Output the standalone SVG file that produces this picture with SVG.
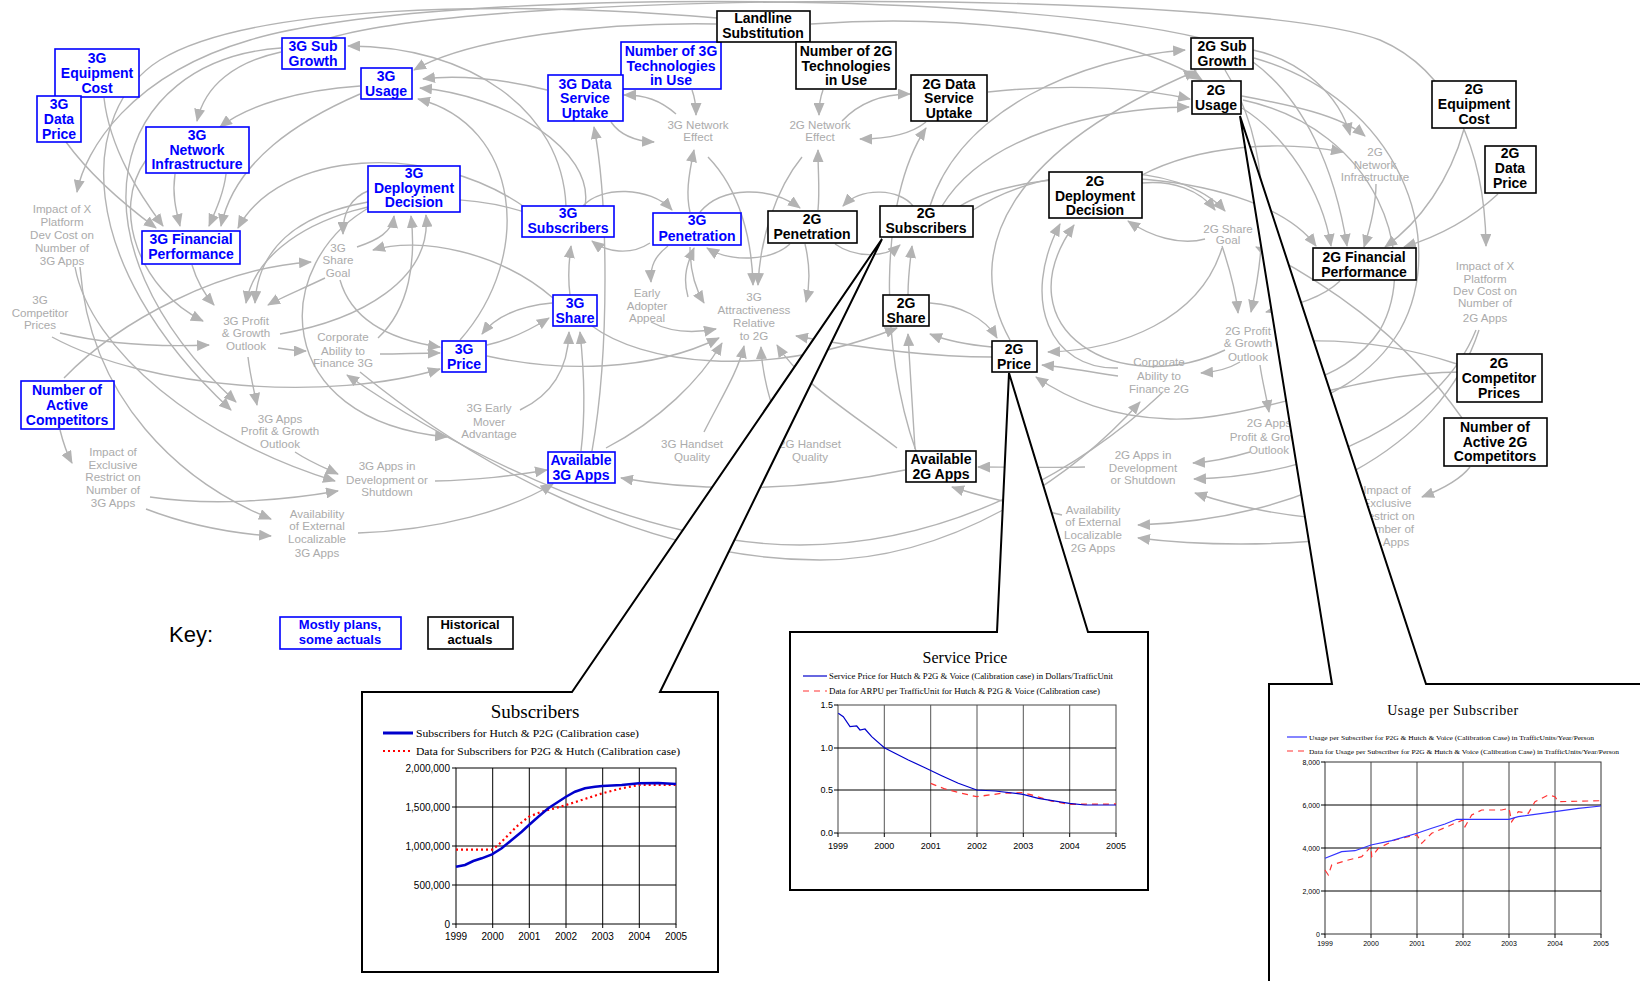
<svg xmlns="http://www.w3.org/2000/svg" width="1640" height="981" viewBox="0 0 1640 981">
<style>
.c{fill:none;stroke:#b3b3b3;stroke-width:1.4;marker-end:url(#ah)}
.cn{fill:none;stroke:#b3b3b3;stroke-width:1.4}
.bb rect{fill:#fff;stroke:#0000ff;stroke-width:1.6}
.bb text{fill:#0000ff;font-family:'Liberation Sans',Arial,sans-serif;font-weight:bold;font-size:14px;text-anchor:middle}
.kb rect{fill:#fff;stroke:#000;stroke-width:1.6}
.kb text{fill:#000;font-family:'Liberation Sans',Arial,sans-serif;font-weight:bold;font-size:14px;text-anchor:middle}
.g text{fill:#ababab;font-family:'Liberation Sans',Arial,sans-serif;font-size:11.6px;text-anchor:middle}
.co{fill:#fff;stroke:#000;stroke-width:2;stroke-linejoin:miter}
.grid{stroke:#000;stroke-width:1;fill:none}
.ax{font-family:'Liberation Sans',Arial,sans-serif;fill:#000}
.ser{font-family:'Liberation Serif','Times New Roman',serif;fill:#000}
</style>
<defs>
<marker id="ah" viewBox="0 0 13 11" refX="12" refY="5.5" markerWidth="13" markerHeight="11" markerUnits="userSpaceOnUse" orient="auto"><path d="M0,0 L13,5.5 L0,11 z" fill="#b3b3b3"/></marker>
</defs>
<rect width="1640" height="981" fill="#fff"/>
<g id="connectors">
<path class="c" d="M566,206 C562,110 470,46 348,46"/>
<path class="c" d="M716,24 C600,22 470,38 414,70"/>
<path class="c" d="M547,90 C500,78 455,75 423,79"/>
<path class="c" d="M585,206 C595,150 505,95 420,88"/>
<path class="c" d="M460,340 C535,255 520,125 418,99"/>
<path class="c" d="M281,52 C235,62 205,85 197,121"/>
<path class="c" d="M360,86 C300,90 248,105 220,127"/>
<path class="c" d="M104,98 C110,150 140,195 163,226"/>
<path class="c" d="M175,174 C172,195 176,210 180,226"/>
<path class="c" d="M226,174 C224,192 216,210 209,226"/>
<path class="c" d="M360,94 C300,120 235,160 221,226"/>
<path class="c" d="M526,208 C430,140 280,150 238,228"/>
<path class="c" d="M66,142 C90,175 125,205 156,228"/>
<path class="c" d="M357,247 C378,240 392,232 394,216"/>
<path class="c" d="M378,338 C410,308 416,260 411,216"/>
<path class="c" d="M280,334 C360,320 432,280 426,215"/>
<path class="c" d="M370,190 C350,198 343,212 343,234"/>
<path class="c" d="M64,378 C120,320 220,268 311,262"/>
<path class="c" d="M553,298 C500,252 420,236 373,250"/>
<path class="c" d="M340,280 C352,322 392,340 440,347"/>
<path class="c" d="M192,265 C198,285 206,296 214,305"/>
<path class="c" d="M325,278 C300,290 282,297 268,305"/>
<path class="c" d="M530,214 C420,175 262,215 246,303"/>
<path class="c" d="M368,202 C295,215 258,250 255,303"/>
<path class="c" d="M146,160 C110,210 140,290 203,321"/>
<path class="c" d="M60,333 C110,345 160,347 209,345"/>
<path class="c" d="M52,337 C150,390 330,402 440,369"/>
<path class="c" d="M278,348 C290,350 296,351 306,351"/>
<path class="c" d="M380,354 C400,354 420,353 440,353"/>
<path class="c" d="M248,357 C250,375 254,390 257,405"/>
<path class="c" d="M295,452 C310,462 325,468 338,474"/>
<path class="c" d="M75,267 C90,350 200,440 335,481"/>
<path class="c" d="M150,497 C210,506 280,501 338,491"/>
<path class="c" d="M80,267 C90,400 180,482 271,519"/>
<path class="c" d="M146,509 C190,526 230,533 271,536"/>
<path class="c" d="M60,430 C63,442 66,452 72,463"/>
<path class="c" d="M435,481 C480,480 510,476 547,470"/>
<path class="c" d="M358,533 C440,530 510,510 553,484"/>
<path class="c" d="M372,206 C270,262 268,420 447,437"/>
<path class="c" d="M520,410 C552,395 568,370 569,332"/>
<path class="c" d="M487,345 C510,340 530,330 549,318"/>
<path class="c" d="M552,303 C520,306 496,316 482,334"/>
<path class="c" d="M487,356 C560,372 650,372 719,338"/>
<path class="c" d="M581,451 C586,410 584,370 580,332"/>
<path class="c" d="M592,451 C610,350 608,200 594,127"/>
<path class="c" d="M592,326 C640,362 760,382 897,328"/>
<path class="c" d="M651,322 C670,332 690,334 716,329"/>
<path class="c" d="M690,247 C690,272 696,290 704,303"/>
<path class="c" d="M805,244 C810,265 810,285 806,302"/>
<path class="c" d="M606,448 C660,420 700,380 722,343"/>
<path class="c" d="M704,432 C720,400 738,372 744,346"/>
<path class="c" d="M780,432 C770,400 762,375 761,347"/>
<path class="c" d="M897,448 C850,412 800,382 777,345"/>
<path class="c" d="M992,357 C920,357 850,346 796,336"/>
<path class="c" d="M708,157 C740,190 752,240 753,285"/>
<path class="c" d="M802,157 C775,190 760,240 758,285"/>
<path class="c" d="M676,114 C660,100 645,95 624,95"/>
<path class="c" d="M611,122 C620,135 635,141 654,142"/>
<path class="c" d="M692,90 C695,98 696,104 696,115"/>
<path class="c" d="M823,90 C820,98 819,104 819,115"/>
<path class="c" d="M842,121 C860,102 885,94 910,94"/>
<path class="c" d="M926,122 C910,135 885,139 860,139"/>
<path class="c" d="M690,212 C686,195 688,178 694,150"/>
<path class="c" d="M818,210 C820,190 818,175 818,150"/>
<path class="c" d="M583,206 C600,186 650,186 672,210"/>
<path class="c" d="M650,243 C630,256 606,252 592,241"/>
<path class="c" d="M700,212 C722,186 770,186 800,208"/>
<path class="c" d="M913,206 C900,189 862,186 843,206"/>
<path class="c" d="M790,244 C770,262 730,262 707,248"/>
<path class="c" d="M835,244 C855,258 885,258 900,245"/>
<path class="c" d="M908,295 C908,276 910,262 912,246"/>
<path class="c" d="M570,295 C568,280 569,260 571,246"/>
<path class="c" d="M688,297 C682,276 688,262 694,248"/>
<path class="c" d="M668,246 C655,256 650,266 651,282"/>
<path class="c" d="M916,451 C880,350 878,200 926,128"/>
<path class="c" d="M811,24 C950,14 1120,30 1202,80"/>
<path class="c" d="M930,206 C960,110 1080,58 1185,50"/>
<path class="c" d="M988,92 C1080,82 1150,90 1190,99"/>
<path class="c" d="M942,206 C985,135 1100,108 1189,107"/>
<path class="c" d="M1010,340 C960,250 1010,150 1196,71"/>
<path class="c" d="M1253,50 C1300,60 1340,95 1350,135"/>
<path class="c" d="M1242,96 C1290,105 1340,115 1365,136"/>
<path class="c" d="M1142,175 C1200,145 1280,140 1343,152"/>
<path class="c" d="M1376,184 C1376,205 1371,225 1364,247"/>
<path class="c" d="M1464,129 C1450,180 1420,222 1385,247"/>
<path class="c" d="M1498,194 C1470,220 1440,236 1404,247"/>
<path class="c" d="M1253,62 C1305,100 1335,170 1347,246"/>
<path class="c" d="M1242,108 C1285,135 1322,190 1331,246"/>
<path class="c" d="M960,206 C1040,158 1260,170 1316,246"/>
<path class="c" d="M330,38 C500,-12 1250,-10 1380,40 C1450,70 1485,150 1486,246"/>
<path class="c" d="M1200,38 C1000,-10 420,-12 250,40 C130,75 85,150 77,192"/>
<path class="c" d="M1142,183 C1172,180 1200,190 1215,210"/>
<path class="c" d="M973,210 C1050,160 1180,160 1225,211"/>
<path class="c" d="M1205,239 C1180,246 1150,236 1128,221"/>
<path class="c" d="M1118,368 C1050,370 1020,300 1060,224"/>
<path class="c" d="M1225,350 C1120,400 1000,330 1074,225"/>
<path class="c" d="M1222,246 C1230,270 1236,292 1238,313"/>
<path class="c" d="M1340,281 C1320,300 1290,306 1266,312"/>
<path class="c" d="M1225,70 C1275,150 1265,250 1251,312"/>
<path class="c" d="M1462,418 C1400,330 1320,280 1256,247"/>
<path class="c" d="M1240,362 C1230,368 1215,372 1201,373"/>
<path class="c" d="M1260,365 C1262,380 1266,395 1269,412"/>
<path class="c" d="M1250,452 C1230,458 1210,462 1193,463"/>
<path class="c" d="M1476,330 C1440,420 1320,476 1194,479"/>
<path class="c" d="M1350,520 C1290,518 1240,508 1195,493"/>
<path class="c" d="M1479,330 C1440,450 1300,520 1138,525"/>
<path class="c" d="M1345,538 C1280,546 1200,546 1138,538"/>
<path class="c" d="M1470,467 C1460,480 1440,490 1422,497"/>
<path class="c" d="M1457,364 C1400,345 1340,338 1285,342"/>
<path class="c" d="M1462,372 C1350,372 1250,422 1170,419 C1110,417 1070,400 1036,377"/>
<path class="c" d="M1118,376 C1090,372 1065,367 1042,365"/>
<path class="c" d="M1222,248 C1200,320 1120,350 1048,352"/>
<path class="c" d="M930,303 C960,305 985,318 997,338"/>
<path class="c" d="M992,347 C970,345 945,340 930,334"/>
<path class="c" d="M915,449 C912,400 910,370 908,334"/>
<path class="c" d="M905,470 C800,492 700,492 621,478"/>
<path class="c" d="M1062,515 C1020,505 985,498 952,487"/>
<path class="c" d="M1085,467 C1040,468 1000,467 978,467"/>
<path class="c" d="M1162,393 C1080,470 950,545 800,545 C650,545 470,460 347,375"/>
<path class="c" d="M360,372 C480,470 650,560 820,560 C950,560 1070,480 1140,402"/>
<path class="c" d="M717,18 C500,0 250,5 160,60 C80,110 70,260 231,410"/>
<path class="c" d="M281,48 C110,60 60,240 236,402"/>
<path class="cn" d="M1254,58 C1400,100 1450,240 1400,330 C1370,380 1320,400 1300,405"/>
<path class="cn" d="M1243,100 C1380,130 1420,260 1380,330 C1360,360 1330,375 1310,380"/>
</g>
<g id="labels" class="g">
<g id="l-3g-net-effect"><text><tspan x="698" y="129">3G Network</tspan><tspan x="698" y="141">Effect</tspan></text></g>
<g id="l-2g-net-effect"><text><tspan x="820" y="129">2G Network</tspan><tspan x="820" y="141">Effect</tspan></text></g>
<g id="l-impact-x-3g"><text><tspan x="62" y="213">Impact of X</tspan><tspan x="62" y="226">Platform</tspan><tspan x="62" y="239">Dev Cost on</tspan><tspan x="62" y="252">Number of</tspan><tspan x="62" y="265">3G Apps</tspan></text></g>
<g id="l-3g-share-goal"><text><tspan x="338" y="252">3G</tspan><tspan x="338" y="264">Share</tspan><tspan x="338" y="277">Goal</tspan></text></g>
<g id="l-3g-comp-prices"><text><tspan x="40" y="304">3G</tspan><tspan x="40" y="317">Competitor</tspan><tspan x="40" y="329">Prices</tspan></text></g>
<g id="l-3g-profit"><text><tspan x="246" y="325">3G Profit</tspan><tspan x="246" y="337">&amp; Growth</tspan><tspan x="246" y="350">Outlook</tspan></text></g>
<g id="l-corp-3g"><text><tspan x="343" y="341">Corporate</tspan><tspan x="343" y="355">Ability to</tspan><tspan x="343" y="367">Finance 3G</tspan></text></g>
<g id="l-early-adopter"><text><tspan x="647" y="297">Early</tspan><tspan x="647" y="310">Adopter</tspan><tspan x="647" y="322">Appeal</tspan></text></g>
<g id="l-3g-attr"><text><tspan x="754" y="301">3G</tspan><tspan x="754" y="314">Attractiveness</tspan><tspan x="754" y="327">Relative</tspan><tspan x="754" y="340">to 2G</tspan></text></g>
<g id="l-3g-early-mover"><text><tspan x="489" y="412">3G Early</tspan><tspan x="489" y="426">Mover</tspan><tspan x="489" y="438">Advantage</tspan></text></g>
<g id="l-3g-apps-profit"><text><tspan x="280" y="423">3G Apps</tspan><tspan x="280" y="435">Profit &amp; Growth</tspan><tspan x="280" y="448">Outlook</tspan></text></g>
<g id="l-impact-excl-3g"><text><tspan x="113" y="456">Impact of</tspan><tspan x="113" y="469">Exclusive</tspan><tspan x="113" y="481">Restrict on</tspan><tspan x="113" y="494">Number of</tspan><tspan x="113" y="507">3G Apps</tspan></text></g>
<g id="l-3g-apps-dev"><text><tspan x="387" y="470">3G Apps in</tspan><tspan x="387" y="484">Development or</tspan><tspan x="387" y="496">Shutdown</tspan></text></g>
<g id="l-avail-ext-3g"><text><tspan x="317" y="518">Availability</tspan><tspan x="317" y="530">of External</tspan><tspan x="317" y="543">Localizable</tspan><tspan x="317" y="557">3G Apps</tspan></text></g>
<g id="l-3g-handset"><text><tspan x="692" y="448">3G Handset</tspan><tspan x="692" y="461">Quality</tspan></text></g>
<g id="l-2g-handset"><text><tspan x="810" y="448">2G Handset</tspan><tspan x="810" y="461">Quality</tspan></text></g>
<g id="l-2g-share-goal"><text><tspan x="1228" y="233">2G Share</tspan><tspan x="1228" y="244">Goal</tspan></text></g>
<g id="l-2g-net-infra"><text><tspan x="1375" y="156">2G</tspan><tspan x="1375" y="169">Network</tspan><tspan x="1375" y="181">Infrastructure</tspan></text></g>
<g id="l-impact-x-2g"><text><tspan x="1485" y="270">Impact of X</tspan><tspan x="1485" y="283">Platform</tspan><tspan x="1485" y="295">Dev Cost on</tspan><tspan x="1485" y="307">Number of</tspan><tspan x="1485" y="322">2G Apps</tspan></text></g>
<g id="l-2g-profit"><text><tspan x="1248" y="335">2G Profit</tspan><tspan x="1248" y="347">&amp; Growth</tspan><tspan x="1248" y="361">Outlook</tspan></text></g>
<g id="l-corp-2g"><text><tspan x="1159" y="366">Corporate</tspan><tspan x="1159" y="380">Ability to</tspan><tspan x="1159" y="393">Finance 2G</tspan></text></g>
<g id="l-2g-apps-profit"><text><tspan x="1269" y="427">2G Apps</tspan><tspan x="1269" y="441">Profit &amp; Growth</tspan><tspan x="1269" y="454">Outlook</tspan></text></g>
<g id="l-2g-apps-dev"><text><tspan x="1143" y="459">2G Apps in</tspan><tspan x="1143" y="472">Development</tspan><tspan x="1143" y="484">or Shutdown</tspan></text></g>
<g id="l-impact-excl-2g"><text><tspan x="1387" y="494">Impact of</tspan><tspan x="1387" y="507">Exclusive</tspan><tspan x="1387" y="520">Restrict on</tspan><tspan x="1387" y="533">Number of</tspan><tspan x="1387" y="546">2G Apps</tspan></text></g>
<g id="l-avail-ext-2g"><text><tspan x="1093" y="514">Availability</tspan><tspan x="1093" y="526">of External</tspan><tspan x="1093" y="539">Localizable</tspan><tspan x="1093" y="552">2G Apps</tspan></text></g>
</g>
<g id="n-3g-equip" class="bb"><rect x="55" y="49" width="84" height="48"/><text><tspan x="97" y="63">3G</tspan><tspan x="97" y="78">Equipment</tspan><tspan x="97" y="93">Cost</tspan></text></g>
<g id="n-3g-data-price" class="bb"><rect x="37" y="96" width="44" height="46"/><text><tspan x="59" y="109">3G</tspan><tspan x="59" y="124">Data</tspan><tspan x="59" y="139">Price</tspan></text></g>
<g id="n-3g-sub-growth" class="bb"><rect x="282" y="38" width="63" height="31"/><text><tspan x="313" y="51">3G Sub</tspan><tspan x="313" y="66">Growth</tspan></text></g>
<g id="n-3g-usage" class="bb"><rect x="361" y="68" width="51" height="31"/><text><tspan x="386" y="81">3G</tspan><tspan x="386" y="96">Usage</tspan></text></g>
<g id="n-3g-net-infra" class="bb"><rect x="146" y="127" width="103" height="46"/><text><tspan x="197" y="140">3G</tspan><tspan x="197" y="155">Network</tspan><tspan x="197" y="169">Infrastructure</tspan></text></g>
<g id="n-3g-deploy" class="bb"><rect x="368" y="166" width="92" height="46"/><text><tspan x="414" y="178">3G</tspan><tspan x="414" y="193">Deployment</tspan><tspan x="414" y="207">Decision</tspan></text></g>
<g id="n-3g-fin" class="bb"><rect x="142" y="231" width="98" height="33"/><text><tspan x="191" y="244">3G Financial</tspan><tspan x="191" y="259">Performance</tspan></text></g>
<g id="n-num-3g-tech" class="bb"><rect x="621" y="42" width="100" height="47"/><text><tspan x="671" y="56">Number of 3G</tspan><tspan x="671" y="71">Technologies</tspan><tspan x="671" y="85">in Use</tspan></text></g>
<g id="n-3g-dsu" class="bb"><rect x="548" y="75" width="75" height="46"/><text><tspan x="585" y="89">3G Data</tspan><tspan x="585" y="103">Service</tspan><tspan x="585" y="118">Uptake</tspan></text></g>
<g id="n-3g-subs" class="bb"><rect x="522" y="206" width="92" height="31"/><text><tspan x="568" y="218">3G</tspan><tspan x="568" y="233">Subscribers</tspan></text></g>
<g id="n-3g-pen" class="bb"><rect x="653" y="213" width="88" height="32"/><text><tspan x="697" y="225">3G</tspan><tspan x="697" y="241">Penetration</tspan></text></g>
<g id="n-3g-share" class="bb"><rect x="553" y="295" width="44" height="31"/><text><tspan x="575" y="308">3G</tspan><tspan x="575" y="323">Share</tspan></text></g>
<g id="n-3g-price" class="bb"><rect x="442" y="341" width="44" height="31"/><text><tspan x="464" y="354">3G</tspan><tspan x="464" y="369">Price</tspan></text></g>
<g id="n-num-active" class="bb"><rect x="21" y="381" width="93" height="48"/><text><tspan x="67" y="395">Number of</tspan><tspan x="67" y="410">Active</tspan><tspan x="67" y="425">Competitors</tspan></text></g>
<g id="n-avail-3g" class="bb"><rect x="548" y="452" width="67" height="31"/><text><tspan x="581" y="465">Available</tspan><tspan x="581" y="480">3G Apps</tspan></text></g>
<g id="n-landline" class="kb"><rect x="717" y="11" width="93" height="31"/><text><tspan x="763" y="23">Landline</tspan><tspan x="763" y="38">Substitution</tspan></text></g>
<g id="n-num-2g-tech" class="kb"><rect x="796" y="42" width="100" height="47"/><text><tspan x="846" y="56">Number of 2G</tspan><tspan x="846" y="71">Technologies</tspan><tspan x="846" y="85">in Use</tspan></text></g>
<g id="n-2g-dsu" class="kb"><rect x="911" y="75" width="76" height="46"/><text><tspan x="949" y="89">2G Data</tspan><tspan x="949" y="103">Service</tspan><tspan x="949" y="118">Uptake</tspan></text></g>
<g id="n-2g-pen" class="kb"><rect x="768" y="211" width="89" height="32"/><text><tspan x="812" y="224">2G</tspan><tspan x="812" y="239">Penetration</tspan></text></g>
<g id="n-2g-subs" class="kb"><rect x="880" y="206" width="93" height="31"/><text><tspan x="926" y="218">2G</tspan><tspan x="926" y="233">Subscribers</tspan></text></g>
<g id="n-2g-deploy" class="kb"><rect x="1049" y="172" width="93" height="46"/><text><tspan x="1095" y="186">2G</tspan><tspan x="1095" y="201">Deployment</tspan><tspan x="1095" y="215">Decision</tspan></text></g>
<g id="n-2g-sub-growth" class="kb"><rect x="1191" y="38" width="62" height="31"/><text><tspan x="1222" y="51">2G Sub</tspan><tspan x="1222" y="66">Growth</tspan></text></g>
<g id="n-2g-usage" class="kb"><rect x="1192" y="81" width="49" height="33"/><text><tspan x="1216" y="95">2G</tspan><tspan x="1216" y="110">Usage</tspan></text></g>
<g id="n-2g-equip" class="kb"><rect x="1432" y="81" width="84" height="47"/><text><tspan x="1474" y="94">2G</tspan><tspan x="1474" y="109">Equipment</tspan><tspan x="1474" y="124">Cost</tspan></text></g>
<g id="n-2g-data-price" class="kb"><rect x="1485" y="146" width="51" height="47"/><text><tspan x="1510" y="158">2G</tspan><tspan x="1510" y="173">Data</tspan><tspan x="1510" y="188">Price</tspan></text></g>
<g id="n-2g-fin" class="kb"><rect x="1313" y="248" width="103" height="32"/><text><tspan x="1364" y="262">2G Financial</tspan><tspan x="1364" y="277">Performance</tspan></text></g>
<g id="n-2g-share" class="kb"><rect x="883" y="295" width="46" height="31"/><text><tspan x="906" y="308">2G</tspan><tspan x="906" y="323">Share</tspan></text></g>
<g id="n-2g-price" class="kb"><rect x="992" y="341" width="45" height="31"/><text><tspan x="1014" y="354">2G</tspan><tspan x="1014" y="369">Price</tspan></text></g>
<g id="n-2g-comp-prices" class="kb"><rect x="1457" y="354" width="85" height="48"/><text><tspan x="1499" y="368">2G</tspan><tspan x="1499" y="383">Competitor</tspan><tspan x="1499" y="398">Prices</tspan></text></g>
<g id="n-num-active-2g" class="kb"><rect x="1444" y="418" width="103" height="48"/><text><tspan x="1495" y="432">Number of</tspan><tspan x="1495" y="447">Active 2G</tspan><tspan x="1495" y="461">Competitors</tspan></text></g>
<g id="n-avail-2g" class="kb"><rect x="906" y="451" width="70" height="31"/><text><tspan x="941" y="464">Available</tspan><tspan x="941" y="479">2G Apps</tspan></text></g>
<g id="key">
<text x="169" y="642" class="ax" font-size="22">Key:</text>
<g class="bb"><rect x="280" y="617" width="121" height="32"/><text style="font-size:13px"><tspan x="340" y="629">Mostly plans,</tspan><tspan x="340" y="644">some actuals</tspan></text></g>
<g class="kb"><rect x="428" y="617" width="85" height="32"/><text style="font-size:13px"><tspan x="470" y="629">Historical</tspan><tspan x="470" y="644">actuals</tspan></text></g>
</g>
<g id="chart-subscribers">
<path class="co" d="M362,692 L572,692 L882,239 L660,692 L718,692 L718,972 L362,972 Z"/>
<text x="535" y="718" class="ser" font-size="19" text-anchor="middle">Subscribers</text>
<line x1="383" y1="733" x2="413" y2="733" stroke="#0000cc" stroke-width="3"/>
<text x="416" y="737" class="ser" font-size="11" textLength="223" lengthAdjust="spacingAndGlyphs">Subscribers for Hutch &amp;  P2G (Calibration case)</text>
<line x1="383" y1="751" x2="413" y2="751" stroke="#ff0000" stroke-width="2" stroke-dasharray="2,3"/>
<text x="416" y="755" class="ser" font-size="11" textLength="264" lengthAdjust="spacingAndGlyphs">Data  for Subscribers for P2G &amp; Hutch (Calibration case)</text>
<g class="grid">
<rect x="456" y="768" width="220" height="156"/>
<path d="M492.7,768V924M529.3,768V924M566,768V924M602.7,768V924M639.3,768V924M456,807H676M456,846H676M456,885H676"/>
<path d="M452,768H456M452,807H456M452,846H456M452,885H456M452,924H456M456,924V928M492.7,924V928M529.3,924V928M566,924V928M602.7,924V928M639.3,924V928M676,924V928"/>
</g>
<g class="ax" font-size="10" text-anchor="end"><text x="450" y="772">2,000,000</text><text x="450" y="811">1,500,000</text><text x="450" y="850">1,000,000</text><text x="450" y="889">500,000</text><text x="450" y="928">0</text></g>
<g class="ax" font-size="10" text-anchor="middle"><text x="456" y="940">1999</text><text x="492.7" y="940">2000</text><text x="529.3" y="940">2001</text><text x="566" y="940">2002</text><text x="602.7" y="940">2003</text><text x="639.3" y="940">2004</text><text x="676" y="940">2005</text></g>
<polyline fill="none" stroke="#ff0000" stroke-width="2.2" stroke-dasharray="2,3" points="456,849.7 492,849.7 498.3,845 508.3,835 518.3,825 529,816.7 541.7,811.7 555,808.3 566,805 581.7,800 602.3,793.3 621.7,788.3 639,785 676,785"/>
<polyline fill="none" stroke="#0000cc" stroke-width="2.5" points="456,866.7 465,865 473.3,861 481.7,858.3 492,854.3 501.7,848.3 511.7,840 521.7,831.7 529,825 538.3,816.7 548.3,808.3 558.3,801.7 566,796.7 575,791.7 585,788.3 595,786.7 602.3,786 621.7,785 639,783.3 658.3,783 676,784"/>
</g>
<g id="chart-service-price">
<path class="co" d="M790,632 L997,632 L1009,373 L1088,632 L1148,632 L1148,890 L790,890 Z"/>
<text x="965" y="663" class="ser" font-size="16" text-anchor="middle">Service Price</text>
<line x1="803" y1="676" x2="827" y2="676" stroke="#0000cc" stroke-width="1.2"/>
<text x="829" y="679" class="ser" font-size="8" textLength="284" lengthAdjust="spacingAndGlyphs">Service Price for Hutch &amp; P2G &amp; Voice (Calibration case) in Dollars/TrafficUnit</text>
<line x1="803" y1="691" x2="827" y2="691" stroke="#ff3333" stroke-width="1.2" stroke-dasharray="6,5"/>
<text x="829" y="694" class="ser" font-size="8" textLength="271" lengthAdjust="spacingAndGlyphs">Data for ARPU per TrafficUnit for Hutch &amp; P2G &amp; Voice (Calibration case)</text>
<g class="grid">
<rect x="838" y="705" width="278" height="128" stroke="#444"/>
<path d="M884.3,705V833M930.7,705V833M977,705V833M1023.3,705V833M1069.7,705V833" stroke="#555"/>
<path d="M838,748H1116M838,790H1116"/>
<path d="M834,705H838M834,748H838M834,790H838M834,833H838M838,833V837M884.3,833V837M930.7,833V837M977,833V837M1023.3,833V837M1069.7,833V837M1116,833V837"/>
</g>
<g class="ax" font-size="9" text-anchor="end"><text x="833" y="708">1.5</text><text x="833" y="751">1.0</text><text x="833" y="793">0.5</text><text x="833" y="836">0.0</text></g>
<g class="ax" font-size="9" text-anchor="middle"><text x="838" y="849">1999</text><text x="884.3" y="849">2000</text><text x="930.7" y="849">2001</text><text x="977" y="849">2002</text><text x="1023.3" y="849">2003</text><text x="1069.7" y="849">2004</text><text x="1116" y="849">2005</text></g>
<polyline fill="none" stroke="#ff3333" stroke-width="1.3" stroke-dasharray="6,5" points="930.7,783.3 945,789 961.7,793.3 976.7,796.7 1001.7,793.3 1023,792.7 1031.7,795 1051.7,801 1069.3,804.3 1116,804"/>
<polyline fill="none" stroke="#0000cc" stroke-width="1.2" points="838.3,713.3 843.3,716.7 850,726.7 856.7,726 860,730 865,729 871.7,736.7 884.3,747.7 895,753.3 908.3,760 925,767.7 941.7,775.7 958.3,783.3 976.7,790 995,791 1023,794.3 1038.3,798.3 1069.3,803.3 1085,805 1116,805"/>
</g>
<g id="chart-usage">
<path class="co" d="M1269,684 L1332,684 L1240,116 L1426,684 L1645,684 L1645,990 L1269,990 Z"/>
<text x="1453" y="715" class="ser" font-size="14" text-anchor="middle" letter-spacing="0.6">Usage per Subscriber</text>
<line x1="1287" y1="737" x2="1307" y2="737" stroke="#3333ff" stroke-width="1.2"/>
<text x="1309" y="739.5" class="ser" font-size="6.5" textLength="285" lengthAdjust="spacingAndGlyphs">Usage per Subscriber for P2G &amp; Hutch &amp; Voice (Calibration Case) in TrafficUnits/Year/Person</text>
<line x1="1287" y1="751" x2="1307" y2="751" stroke="#ff3333" stroke-width="1.2" stroke-dasharray="6,5"/>
<text x="1309" y="753.5" class="ser" font-size="6.5" textLength="310" lengthAdjust="spacingAndGlyphs">Data for Usage per Subscriber for P2G &amp; Hutch &amp; Voice (Calibration Case) in TrafficUnits/Year/Person</text>
<g class="grid">
<rect x="1325" y="762" width="276" height="172" stroke="#333"/>
<path d="M1371,762V934M1417,762V934M1463,762V934M1509,762V934M1555,762V934" stroke="#444"/>
<path d="M1325,805H1601M1325,848H1601M1325,891H1601"/>
<path d="M1321,762H1325M1321,805H1325M1321,848H1325M1321,891H1325M1321,934H1325M1325,934V938M1371,934V938M1417,934V938M1463,934V938M1509,934V938M1555,934V938M1601,934V938"/>
</g>
<g class="ax" font-size="7" text-anchor="end"><text x="1320" y="765">8,000</text><text x="1320" y="808">6,000</text><text x="1320" y="851">4,000</text><text x="1320" y="894">2,000</text><text x="1320" y="937">0</text></g>
<g class="ax" font-size="7" text-anchor="middle"><text x="1325" y="946">1999</text><text x="1371" y="946">2000</text><text x="1417" y="946">2001</text><text x="1463" y="946">2002</text><text x="1509" y="946">2003</text><text x="1555" y="946">2004</text><text x="1601" y="946">2005</text></g>
<polyline fill="none" stroke="#ff3333" stroke-width="1.2" stroke-dasharray="6,5" points="1325,870 1328.3,875 1331.7,865 1348.3,860 1361.7,856.7 1371,846.7 1371.7,856.7 1378.3,848.3 1395,840 1408.3,836.7 1417,835 1421.7,843.3 1431.7,833.3 1455,823.3 1463,820 1465,826.7 1471.7,815 1481.7,810 1501.7,810 1509,808.3 1511.7,821.7 1518.3,811.7 1528.3,813.3 1535,801.7 1548.3,795 1555,796.7 1558.3,801.7 1601,800.7"/>
<polyline fill="none" stroke="#3333ff" stroke-width="1.2" points="1325,858.3 1341.7,851.7 1355,850.7 1371,845 1391.7,840.7 1417,833.3 1431.7,828.3 1445,824 1456.7,819.3 1509,819.3 1518.3,816.7 1555,811.7 1578.3,808.3 1601,806"/>
</g>
</svg>
